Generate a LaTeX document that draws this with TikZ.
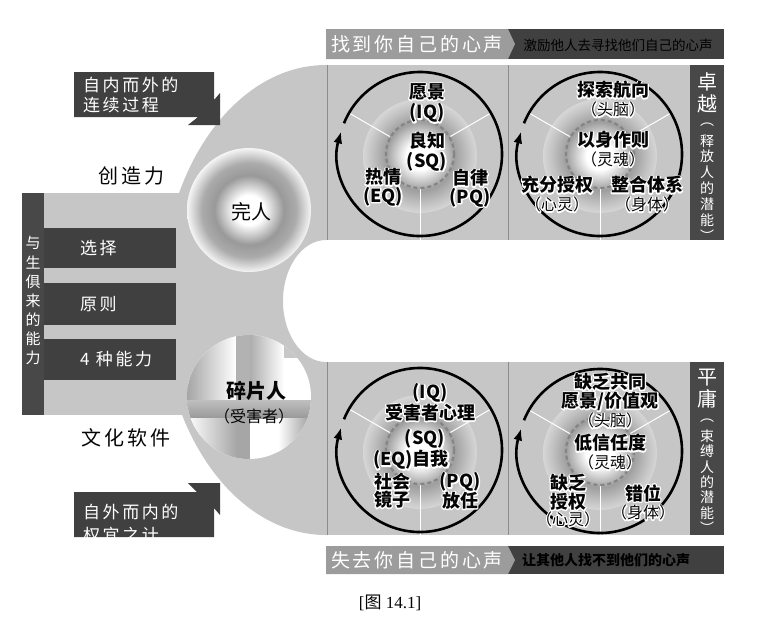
\documentclass[tikz,border=0pt]{standalone}
\usepackage{fontspec}
\setmainfont{Liberation Serif}
\newfontfamily\cjk{Noto Sans CJK SC}
\newfontfamily\cjkwide{Noto Sans CJK SC}[LetterSpace=15]
\usetikzlibrary{arrows.meta,positioning}

\definecolor{pale}{HTML}{C6C6C6}
\definecolor{boxgray}{HTML}{404040}
\definecolor{bargray}{HTML}{484848}
\definecolor{bannergray}{HTML}{9C9C9C}
\definecolor{ringgray}{HTML}{858585}
\definecolor{ink}{HTML}{050505}

\pgfdeclareradialshading{coreglow}{\pgfpoint{0bp}{0bp}}{color(0bp)=(white); color(6bp)=(white); color(15bp)=(black!38); color(21bp)=(black!24); color(25bp)=(black!16); color(50bp)=(black!16)}
\pgfdeclareradialshading{wholeglow}{\pgfpoint{0bp}{0bp}}{color(0bp)=(white); color(6bp)=(white); color(14bp)=(black!40); color(19bp)=(black!33); color(25bp)=(black!4); color(50bp)=(black!4)}

% white outline behind a label (stroked copy, then the normal text)
\newcommand{\halo}[1]{\leavevmode\rlap{\color{white}\special{pdf:literal direct 1 Tr 2.4 w 1 j}#1\special{pdf:literal direct 0 Tr}}#1}
% plain black text on the dark banners
\newcommand{\inkdark}[1]{\special{pdf:literal direct 0 0 0 rg 0 0 0 RG 0 Tr}#1}

\tikzset{
  darkbox/.style={fill=boxgray, draw=none},
  whitetxt/.style={text=white, inner sep=0pt, font=\cjkwide\fontsize{17}{20}\selectfont},
  blacktxt/.style={text=ink, inner sep=0pt, font=\cjkwide\fontsize{20}{22}\selectfont},
  labelbold/.style={text=ink, inner sep=0pt, font=\cjk\bfseries\fontsize{18}{20}\selectfont},
  labelthin/.style={text=ink, inner sep=0pt, font=\cjk\fontsize{16}{18}\selectfont},
  bartxt/.style={text=white, inner sep=0pt, font=\cjk\fontsize{15}{15}\selectfont},
  bigbartxt/.style={text=white, inner sep=0pt, font=\cjk\fontsize{20}{20}\selectfont},
  cyclearrow/.style={line width=2.6pt, -{Latex[length=12pt,width=9pt]}},
  spoke/.style={white, line width=1pt},
  corering/.style={ringgray, line width=2.2pt, dash pattern=on 4pt off 3pt}
}

\begin{document}
\begin{tikzpicture}[x=1pt, y=-1pt]
  \useasboundingbox (0,0) rectangle (764,625);

  % grey backdrop
  \fill[pale] (326,65) arc[start angle=-90, end angle=-270, x radius=165, y radius=235]
    -- (326,362) arc[start angle=90, end angle=270, x radius=43, y radius=61] -- cycle;
  \fill[pale] (22,193) rectangle (190,415);
  \fill[pale] (326,65) rectangle (690,240);
  \fill[pale] (326,362) rectangle (690,535);
  \draw[black!45, line width=0.8pt] (327,65) -- (327,240) (508,65) -- (508,240)
    (327,362) -- (327,535) (508,362) -- (508,535);

  % banners
  \fill[boxgray] (326,29) rectangle (724,59);
  \fill[bannergray] (326,29) -- (508,29) -- (515,44) -- (508,59) -- (326,59) -- cycle;
  \node[text=ink, inner sep=0pt, font=\cjk\fontsize{13.5}{14}\selectfont] (inspire) at (618,45) {\inkdark{激励他人去寻找他们自己的心声}};
  \node[whitetxt, font=\cjkwide\fontsize{19}{20}\selectfont] (findvoice) at (417,44) {找到你自己的心声};
  \fill[boxgray] (326,546) rectangle (724,574);
  \fill[bannergray] (326,546) -- (508,546) -- (515,560) -- (508,574) -- (326,574) -- cycle;
  \node[text=ink, inner sep=0pt, font=\cjk\bfseries\fontsize{14}{14}\selectfont] (hinder) at (606,560) {\inkdark{让其他人找不到他们的心声}};
  \node[whitetxt, font=\cjkwide\fontsize{19}{20}\selectfont] (losevoice) at (417,560) {失去你自己的心声};

  % left column
  \fill[bargray] (22,193) rectangle (44,415);
  \foreach \ch [count=\i] in {与,生,俱,来,的,能,力}
    \node[bartxt] (born\i) at (33,{243+19.2*(\i-1)}) {\ch};
  \fill[boxgray] (44,228) rectangle (176,268);
  \fill[boxgray] (44,283) rectangle (176,325);
  \fill[boxgray] (44,339) rectangle (176,380);
  \node[whitetxt, anchor=west] (choice) at (80,248) {选择};
  \node[whitetxt, anchor=west] (principle) at (80,304) {原则};
  \node[whitetxt, anchor=west] (fourgifts) at (80,359) {4 种能力};
  \node[blacktxt] (creativity) at (131,176) {创造力};
  \node[blacktxt] (culture) at (126,438) {文化软件};

  \fill[boxgray] (74,72) -- (214,72) -- (214,100) -- (220,93) -- (220,125) -- (188,125)
    -- (198,117) -- (74,117) -- cycle;
  \node[whitetxt, align=left, anchor=west] (insideout) at (83,95) {自内而外的\\连续过程};
  \begin{scope}
    \clip (74,492) -- (197,492) -- (188,483) -- (220,483) -- (220,515) -- (214,508)
      -- (214,537) -- (74,537) -- cycle;
    \fill[boxgray] (60,470) rectangle (230,545);
    \node[whitetxt, align=left, anchor=west, font=\cjkwide\fontsize{17}{23}\selectfont]
      (outsidein) at (83,524) {自外而内的\\权宜之计};
  \end{scope}

  % whole person
  \shade[shading=wholeglow] (249,210) circle[radius=62];
  \node[text=ink, inner sep=0pt, font=\cjk\fontsize{20}{20}\selectfont] (whole) at (251,212) {完人};

  % fragmented person
  \begin{scope}
    \clip (249,397) circle[radius=62];
    \fill[white] (187,335) rectangle (312,460);
    \shade[left color=black!35, right color=white] (187,335) rectangle (236,400);
    \fill[black!30] (236,335) rectangle (250,400);
    \shade[left color=black!32, right color=white] (250,335) rectangle (284,400);
    \fill[black!22] (284,335) rectangle (312,358);
    \shade[top color=black!25, bottom color=black!40] (187,400) rectangle (312,418);
    \shade[left color=white, right color=black!35] (187,418) rectangle (237,460);
    \fill[black!35] (237,418) rectangle (250,460);
    \shade[left color=white, right color=black!40] (278,418) rectangle (312,460);
  \end{scope}
  \node[text=ink, inner sep=0pt, font=\cjk\bfseries\fontsize{20}{20}\selectfont] (broken) at (256,391) {碎片人};
  \node[text=ink, inner sep=0pt, font=\cjk\fontsize{16}{16}\selectfont] (victim) at (254,416) {（受害者）};

  % right bars
  \fill[bargray] (690,65) rectangle (724,240);
  \fill[bargray] (690,362) rectangle (724,535);
  \node[bigbartxt] (great1) at (707,82) {卓};
  \node[bigbartxt] (great2) at (707,104) {越};
  \foreach \ch [count=\i] in {︵,释,放,人,的,潜,能,︶}
    \node[bartxt, font=\cjk\fontsize{14}{14}\selectfont] (unleash\i) at (707,{125+15.8*(\i-1)}) {\ch};
  \node[bigbartxt] (medio1) at (707,378) {平};
  \node[bigbartxt] (medio2) at (707,399) {庸};
  \foreach \ch [count=\i] in {︵,束,缚,人,的,潜,能,︶}
    \node[bartxt, font=\cjk\fontsize{14}{14}\selectfont] (bind\i) at (707,{421+15.3*(\i-1)}) {\ch};

  % cycles
  \foreach \cx/\cy in {420/154, 600/154, 420/450, 600/451} {
    \shade[shading=coreglow] (\cx,\cy+2) circle[radius=57];
    \draw[spoke] (\cx,\cy) ++(-150:35) -- ++(-150:47);
    \draw[spoke] (\cx,\cy) ++(-30:35) -- ++(-30:47);
    \draw[spoke] (\cx,\cy) ++(90:35) -- ++(90:51);
    \draw[corering] (\cx,\cy) circle[radius=34];
    \draw[cyclearrow] (\cx,\cy) ++(-158:82) arc[start angle=-158, end angle=196, radius=82];
  }

  % top left
  \node[labelbold] (vision) at (427,92) {\halo{愿景}};
  \node[labelbold, below=3pt of vision] (iq) {\halo{(IQ)}};
  \node[labelbold] (conscience) at (427,141) {\halo{良知}};
  \node[labelbold, below=2pt of conscience] (sq) {\halo{(SQ)}};
  \node[labelbold] (passion) at (383,177) {\halo{热情}};
  \node[labelbold, below=1pt of passion] (eq) {\halo{(EQ)}};
  \node[labelbold] (discipline) at (470,178) {\halo{自律}};
  \node[labelbold, below=1pt of discipline] (pq) {\halo{(PQ)}};

  % top right
  \node[labelbold] (pathfind) at (613,90) {\halo{探索航向}};
  \node[labelthin, below=3pt of pathfind] (pathhead) {\halo{（头脑）}};
  \node[labelbold] (model) at (613,140) {\halo{以身作则}};
  \node[labelthin, below=3pt of model] (modelsoul) {\halo{（灵魂）}};
  \node[labelbold] (empower) at (557,185) {\halo{充分授权}};
  \node[labelthin, below=3pt of empower] (empowerheart) {\halo{（心灵）}};
  \node[labelbold] (align) at (647,185) {\halo{整合体系}};
  \node[labelthin, below=3pt of align] (alignbody) {\halo{（身体）}};

  % bottom left
  \node[labelbold] (biq) at (430,393) {\halo{(IQ)}};
  \node[labelbold, below=1pt of biq] (victimhood) {\halo{受害者心理}};
  \node[labelbold] (bsq) at (425,439) {\halo{(SQ)}};
  \node[labelbold] (ego) at (411,460) {\halo{(EQ)自我}};
  \node[labelbold] (social) at (392,482) {\halo{社会}};
  \node[labelbold, below=0pt of social] (mirror) {\halo{镜子}};
  \node[labelbold] (bpq) at (460,482) {\halo{(PQ)}};
  \node[labelbold, below=0pt of bpq] (indulge) {\halo{放任}};

  % bottom right
  \node[labelbold] (lack) at (610,382) {\halo{缺乏共同}};
  \node[labelbold, below=1pt of lack] (values) {\halo{愿景/价值观}};
  \node[labelthin, below=2pt of values] (valueshead) {\halo{（头脑）}};
  \node[labelbold] (lowtrust) at (610,443) {\halo{低信任度}};
  \node[labelthin, below=3pt of lowtrust] (trustsoul) {\halo{（灵魂）}};
  \node[labelbold] (nopower1) at (568,483) {\halo{缺乏}};
  \node[labelbold, below=1pt of nopower1] (nopower2) {\halo{授权}};
  \node[labelthin, below=1pt of nopower2] (nopowerheart) {\halo{（心灵）}};
  \node[labelbold] (misalign) at (643,493) {\halo{错位}};
  \node[labelthin, below=3pt of misalign] (misalignbody) {\halo{（身体）}};

  % caption
  \node[text=ink, inner sep=0pt, font=\fontsize{17}{20}\selectfont] (caption) at (390,603) {[{\cjk 图} 14.1]};
\end{tikzpicture}
\end{document}
